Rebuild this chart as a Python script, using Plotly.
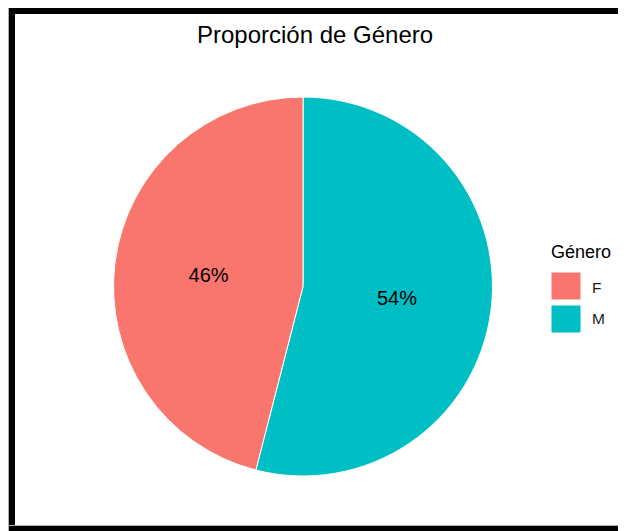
import plotly.graph_objects as go

categories = ["F", "M"]
values = [46, 54]
colors = ["#F8766D", "#00BFC4"]
title_text = "Proporción de Género"
legend_title = "Género"

# page has an 8px body margin, so the figure occupies the window minus 8px
OFF = 8
W, H = 626 - OFF, 531 - OFF

def px(x):
    return (x - OFF) / W

def py(y):
    return 1 - (y - OFF) / H

cx, cy, r = 303, 286.5, 189.5
FONT = "Liberation Sans, Arial, sans-serif"

# pie drawn clockwise from 12 o'clock, M first so that F sits on the left
fig = go.Figure()
fig.add_trace(go.Pie(
    labels=categories[::-1],
    values=values[::-1],
    marker=dict(colors=colors[::-1], line=dict(color="white", width=1)),
    sort=False,
    direction="clockwise",
    rotation=0,
    textinfo="percent",
    texttemplate="%{percent:.0%}",
    textposition="inside",
    insidetextorientation="horizontal",
    textfont=dict(family=FONT, size=20, color="black"),
    domain=dict(x=[px(cx - r), px(cx + r)], y=[py(cy + r), py(cy - r)]),
    showlegend=False,
    hoverinfo="label+percent",
))

shapes = []
# frame border (black, cut off on the right)
shapes.append(dict(type="rect", xref="paper", yref="paper", x0=px(8), x1=px(9), y0=py(531), y1=py(8),
                   fillcolor="#b0b0b0", line=dict(width=0), layer="above"))
shapes.append(dict(type="rect", xref="paper", yref="paper", x0=px(9), x1=px(15), y0=py(531), y1=py(8),
                   fillcolor="black", line=dict(width=0), layer="above"))
shapes.append(dict(type="rect", xref="paper", yref="paper", x0=px(9), x1=px(626), y0=py(14), y1=py(8),
                   fillcolor="black", line=dict(width=0), layer="above"))
shapes.append(dict(type="rect", xref="paper", yref="paper", x0=px(9), x1=px(626), y0=py(531), y1=py(526),
                   fillcolor="black", line=dict(width=0), layer="above"))
shapes.append(dict(type="rect", xref="paper", yref="paper", x0=px(9), x1=px(626), y0=py(526), y1=py(525),
                   fillcolor="#b0b0b0", line=dict(width=0), layer="above"))

annotations = [
    dict(text=title_text, xref="paper", yref="paper", x=px(314.5), y=py(35), xanchor="center", yanchor="middle",
         showarrow=False, font=dict(family=FONT, size=24, color="black")),
    dict(text=legend_title, xref="paper", yref="paper", x=px(549), y=py(252), xanchor="left", yanchor="middle",
         showarrow=False, font=dict(family=FONT, size=18, color="black")),
]

# custom legend built from categories
for i, (cat, col) in enumerate(zip(categories, colors)):
    top = 272 + i * 33
    shapes.append(dict(type="rect", xref="paper", yref="paper", x0=px(551), x1=px(581), y0=py(top + 28), y1=py(top),
                       fillcolor=col, line=dict(color="white", width=1)))
    annotations.append(dict(text=cat, xref="paper", yref="paper", x=px(590), y=py(287 + i * 31.5), xanchor="left",
                            yanchor="middle", showarrow=False,
                            font=dict(family=FONT, size=15.5, color="#1a1a1a")))

fig.update_layout(
    width=W, height=H,
    margin=dict(l=0, r=0, t=0, b=0),
    paper_bgcolor="white",
    plot_bgcolor="white",
    shapes=shapes,
    annotations=annotations,
    showlegend=False,
)

fig.write_html("out.html")
